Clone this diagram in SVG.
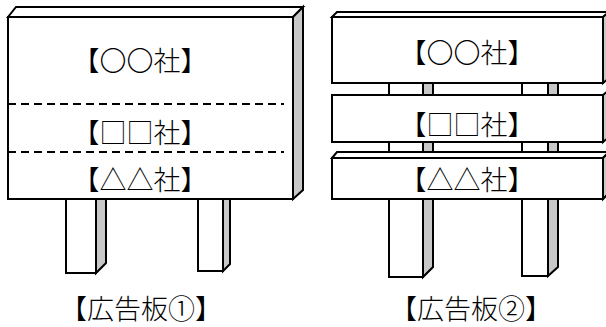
<svg xmlns="http://www.w3.org/2000/svg" width="606" height="327" viewBox="0 0 606 327">
  <style>
    .ln { stroke: #000; stroke-width: 2; stroke-linejoin: miter; }
    .face { fill: #fff; }
    .side { fill: #c8c8c8; }
    .dash { stroke: #000; stroke-width: 2; stroke-dasharray: 8 5; fill: none; }
    text { font-family: "Noto Sans CJK JP", "Noto Sans CJK SC", sans-serif; font-size: 27px; font-weight: 300; fill: #000; text-anchor: middle; dominant-baseline: central; }
  </style>
  <rect width="606" height="327" fill="#fff"/>

  <!-- Sign 1: single panel with dashed dividers -->
  <g id="sign1">
    <g id="sign1-legs">
      <rect class="ln face" x="66" y="199" width="30" height="74"/>
      <polygon class="ln side" points="96,199 106,199 106,263 96,273"/>
      <rect class="ln face" x="198" y="199" width="25" height="72"/>
      <polygon class="ln side" points="223,199 230,199 230,264 223,271"/>
    </g>
    <g id="sign1-panel">
      <polygon class="ln face" points="8,17 16,7 303,7 293,17"/>
      <polygon class="ln side" points="293,17 303,7 303,190 293,199"/>
      <rect class="ln face" x="8" y="17" width="285" height="182"/>
      <line class="dash" x1="8" y1="104" x2="284" y2="104"/>
      <line class="dash" x1="8" y1="152" x2="284" y2="152"/>
      <text x="140" y="59">【〇〇社】</text>
      <text x="140" y="131">【□□社】</text>
      <text x="140" y="178">【△△社】</text>
    </g>
    <text id="label1" x="141" y="307">【広告板①】</text>
  </g>

  <!-- Sign 2: three separate boards on two posts -->
  <g id="sign2">
    <g id="sign2-posts">
      <rect class="ln face" x="389" y="12" width="34" height="265"/>
      <polygon class="ln side" points="423,12 433,12 433,267 423,277"/>
      <rect class="ln face" x="522" y="12" width="26" height="264"/>
      <polygon class="ln side" points="548,12 558,12 558,267 548,276"/>
    </g>
    <g id="board-top">
      <polygon class="ln face" points="332,17 337,12 609,12 603,17"/>
      <polygon class="ln side" points="603,17 609,12 609,78 603,83"/>
      <rect class="ln face" x="332" y="17" width="271" height="66"/>
      <text x="467" y="51">【〇〇社】</text>
    </g>
    <g id="board-middle">
      <polygon class="ln side" points="603,95 609,90 609,137 603,142"/>
      <rect class="ln face" x="332" y="95" width="271" height="47"/>
      <text x="467" y="123">【□□社】</text>
    </g>
    <g id="board-bottom">
      <polygon class="ln face" points="332,158 337,152 609,152 603,158"/>
      <polygon class="ln side" points="603,158 609,152 609,193 603,199"/>
      <rect class="ln face" x="332" y="158" width="271" height="41"/>
      <text x="467" y="178">【△△社】</text>
    </g>
    <text id="label2" x="471" y="307">【広告板②】</text>
  </g>
</svg>
